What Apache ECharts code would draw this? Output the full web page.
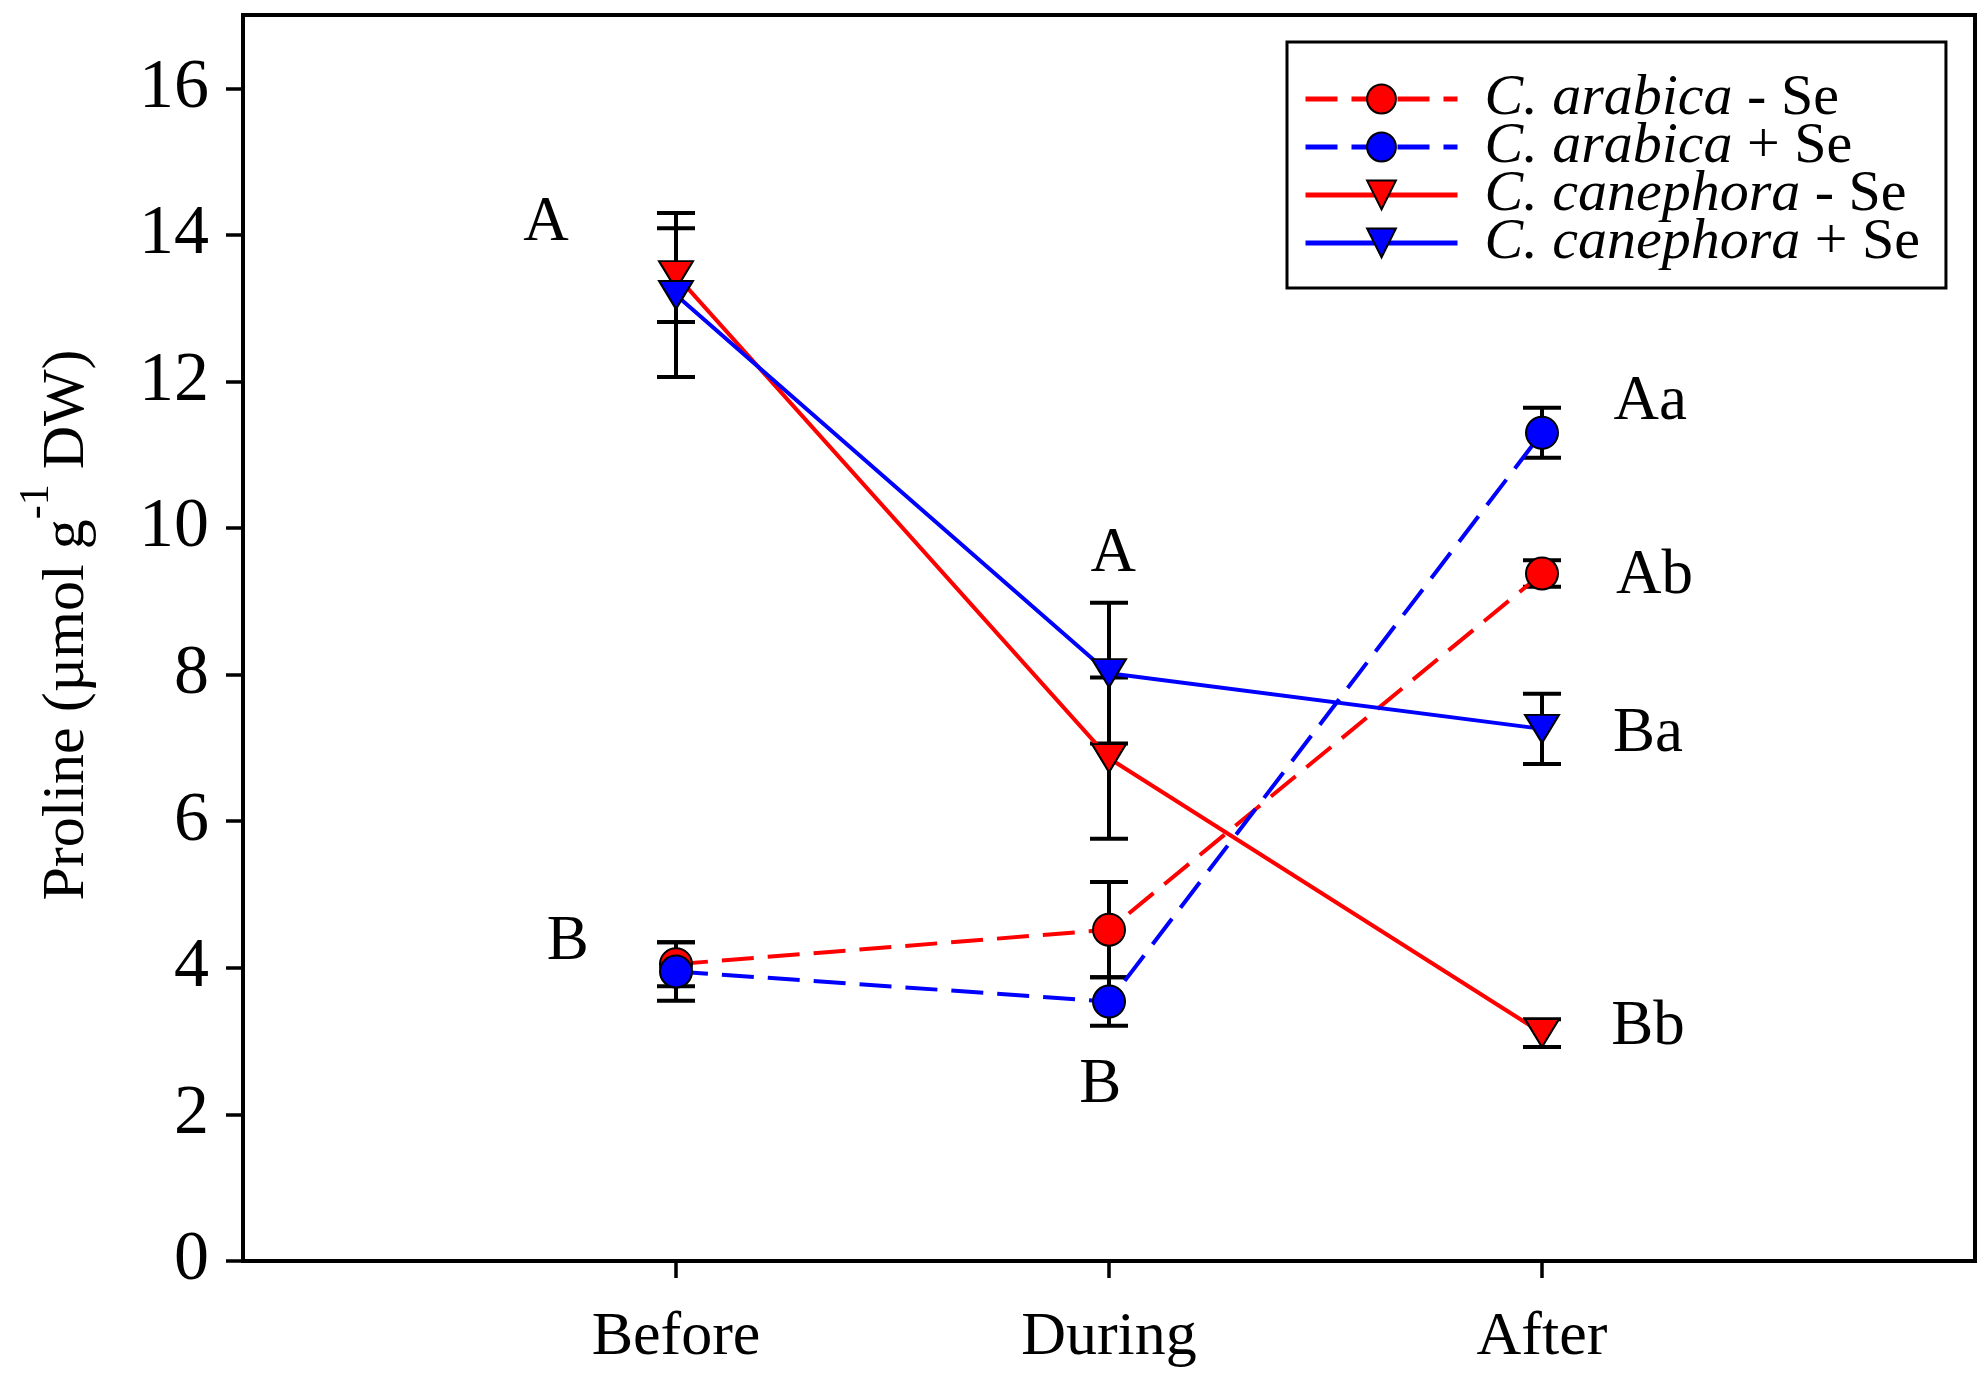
<!DOCTYPE html>
<html>
<head>
<meta charset="utf-8">
<script src="https://cdn.jsdelivr.net/npm/echarts@6/dist/echarts.min.js"></script>
<style>
html, body { margin: 0; padding: 0; background: #fff; }
#chart { width: 1983px; height: 1383px; }
</style>
</head>
<body>
<div id="chart"></div>
<script>
// sampling times and y ticks
var categories = ['Before', 'During', 'After'];
var yTicks = [0, 2, 4, 6, 8, 10, 12, 14, 16];

// proline means and error
var arabicaMinus = [4.05, 4.52, 9.38];
var arabicaMinusErr = [0.30, 0.65, 0.18];
var arabicaPlus = [3.95, 3.54, 11.30];
var arabicaPlusErr = [0.40, 0.33, 0.34];
var canephoraMinus = [13.45, 6.86, 3.11];
var canephoraMinusErr = [0.64, 1.10, 0.19];
var canephoraPlus = [13.18, 8.02, 7.26];
var canephoraPlusErr = [1.12, 0.96, 0.48];

// significance letters
var letterText = ['A', 'B', 'A', 'B', 'Aa', 'Ab', 'Ba', 'Bb'];
var letterX = [0.70, 0.75, 2.01, 1.98, 3.25, 3.26, 3.245, 3.245];
var letterY = [14.16, 4.34, 9.64, 2.40, 11.71, 9.34, 7.18, 3.19];

var serif = 'Liberation Serif';

var groups = [
    {name: 'C. arabica - Se', values: arabicaMinus, err: arabicaMinusErr, color: '#ff0000', dashed: true, symbol: 'circle'},
    {name: 'C. arabica + Se', values: arabicaPlus, err: arabicaPlusErr, color: '#0000ff', dashed: true, symbol: 'circle'},
    {name: 'C. canephora - Se', values: canephoraMinus, err: canephoraMinusErr, color: '#ff0000', dashed: false, symbol: 'triangle'},
    {name: 'C. canephora + Se', values: canephoraPlus, err: canephoraPlusErr, color: '#0000ff', dashed: false, symbol: 'triangle'}
];

function points(values) {
    return values.map(function (v, i) { return [i + 1, v]; });
}
function errRows(values, err) {
    return values.map(function (v, i) { return [i + 1, v - err[i], v + err[i]]; });
}

function renderErr(params, api) {
    var x = api.value(0);
    var lo = api.coord([x, api.value(1)]);
    var hi = api.coord([x, api.value(2)]);
    var half = 19;
    var style = {stroke: '#000', lineWidth: 4};
    return {
        type: 'group',
        children: [
            {type: 'line', shape: {x1: lo[0], y1: lo[1], x2: hi[0], y2: hi[1]}, style: style},
            {type: 'line', shape: {x1: lo[0] - half, y1: lo[1], x2: lo[0] + half, y2: lo[1]}, style: style},
            {type: 'line', shape: {x1: hi[0] - half, y1: hi[1], x2: hi[0] + half, y2: hi[1]}, style: style}
        ]
    };
}

// letters drawn as plain text at data positions
function renderLetter(params, api) {
    var p = api.coord([api.value(0), api.value(1)]);
    return {
        type: 'text',
        x: p[0],
        y: p[1],
        style: {
            text: letterText[params.dataIndex],
            fill: '#000',
            font: '63px "Liberation Serif"',
            align: 'center',
            verticalAlign: 'middle'
        }
    };
}

var series = [];
groups.forEach(function (g) {
    series.push({
        type: 'custom',
        renderItem: renderErr,
        data: errRows(g.values, g.err),
        silent: true,
        z: 2
    });
});
groups.forEach(function (g) {
    series.push({
        name: g.name,
        type: 'line',
        data: points(g.values),
        symbol: g.symbol,
        symbolRotate: g.symbol === 'triangle' ? 180 : 0,
        symbolSize: g.symbol === 'triangle' ? [34, 28] : 32,
        lineStyle: {color: g.color, width: 4, type: g.dashed ? [32, 14] : 'solid'},
        itemStyle: {color: g.color, borderColor: '#000', borderWidth: 2},
        emphasis: {disabled: true},
        z: 3
    });
});
series.push({
    type: 'custom',
    renderItem: renderLetter,
    data: letterX.map(function (x, i) { return [x, letterY[i]]; }),
    silent: true,
    z: 4
});

var option = {
    animation: false,
    backgroundColor: '#fff',
    textStyle: {fontFamily: serif, color: '#000'},
    grid: {left: 243, right: 8, top: 15, bottom: 122, show: true, borderColor: '#000', borderWidth: 4, backgroundColor: 'transparent'},
    xAxis: {
        type: 'value',
        min: 0,
        max: 4,
        splitLine: {show: false},
        axisLine: {lineStyle: {color: '#000', width: 4}},
        axisTick: {customValues: [1, 2, 3], length: 17, lineStyle: {color: '#000', width: 3.5}},
        axisLabel: {
            customValues: [1, 2, 3],
            formatter: function (v) { return categories[v - 1]; },
            margin: 46,
            fontFamily: serif,
            fontSize: 62,
            color: '#000'
        }
    },
    yAxis: {
        type: 'value',
        min: 0,
        max: 17,
        interval: 1,
        splitLine: {show: false},
        axisLine: {show: true, lineStyle: {color: '#000', width: 4}},
        axisTick: {customValues: yTicks, length: 17, lineStyle: {color: '#000', width: 3.5}},
        axisLabel: {customValues: yTicks, margin: 34, fontFamily: serif, fontSize: 70, color: '#000'},
        name: '{h| }{m|Proline (\u00b5mol g}{s|-1}{m| DW)}',
        nameLocation: 'middle',
        nameGap: 146,
        nameTextStyle: {
            fontFamily: serif,
            color: '#000',
            rich: {
                h: {fontSize: 1, lineHeight: 81, width: 26, fontFamily: serif},
                m: {fontSize: 60, lineHeight: 62, verticalAlign: 'bottom', fontFamily: serif, color: '#000'},
                s: {fontSize: 42, lineHeight: 44, verticalAlign: 'top', fontFamily: serif, color: '#000'}
            }
        }
    },
    legend: {
        data: groups.map(function (g) { return g.name; }),
        orient: 'vertical',
        left: 1287,
        top: 42,
        itemWidth: 152,
        itemHeight: 36,
        itemGap: -10,
        padding: [28, 26, 16, 16],
        borderColor: '#000',
        borderWidth: 3,
        backgroundColor: '#fff',
        selectedMode: false,
        lineStyle: {width: 5},
        formatter: function (name) {
            var m = name.match(/^(.*?)( [-+] Se)$/);
            return '{i|' + m[1] + '}{n|' + m[2] + '}';
        },
        textStyle: {
            fontFamily: serif,
            fontSize: 58,
            color: '#000',
            rich: {
                i: {fontFamily: serif, fontStyle: 'italic', fontSize: 58, color: '#000', padding: [0, 0, 0, 22]},
                n: {fontFamily: serif, fontSize: 58, color: '#000'}
            }
        }
    },
    series: series
};

var chart = echarts.init(document.getElementById('chart'));
chart.setOption(option);
window.addEventListener('resize', chart.resize);
</script>
</body>
</html>
